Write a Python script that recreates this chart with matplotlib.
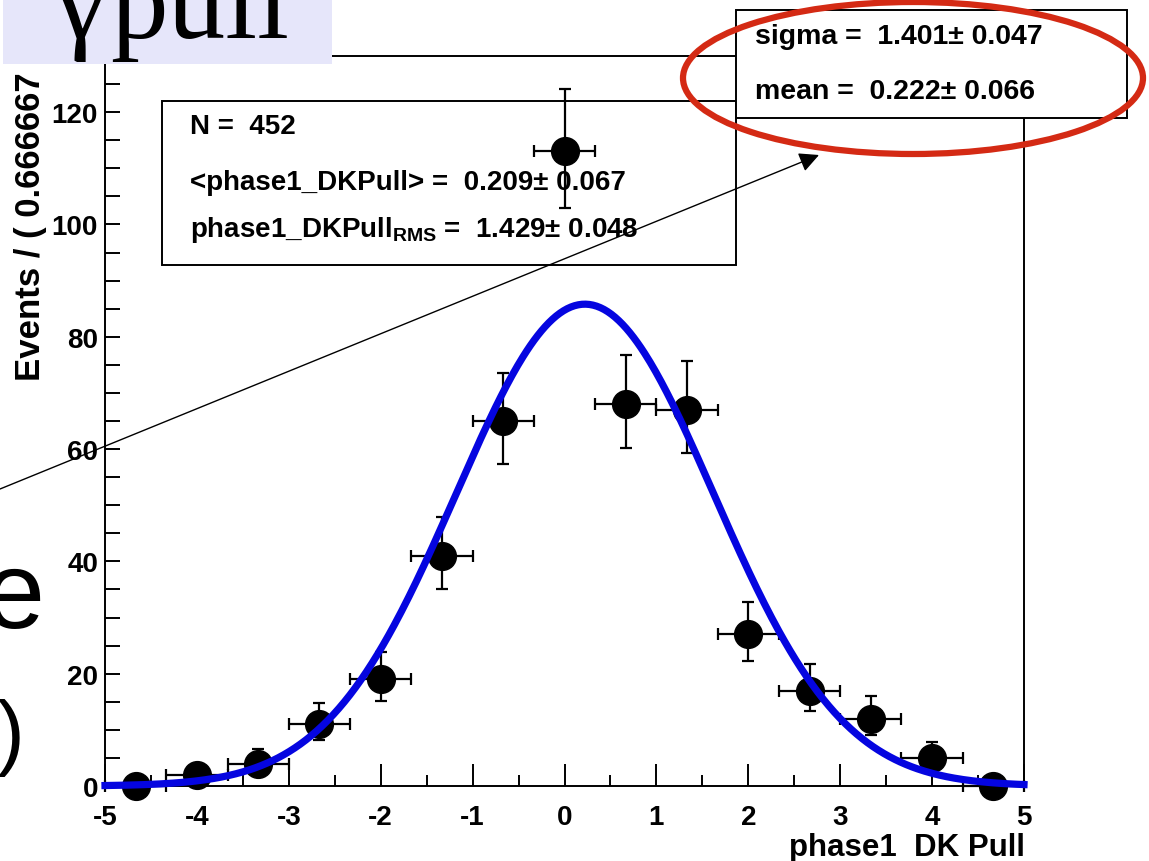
import numpy as np
import matplotlib
matplotlib.use("Agg")
import matplotlib.pyplot as plt
from matplotlib.patches import Rectangle, Ellipse, FancyArrowPatch

# binned pull distribution, 15 bins over [-5, 5]
bin_lo, bin_hi, n_bins = -5.0, 5.0, 15
counts = [0, 2, 4, 11, 19, 41, 65, 113, 68, 67, 27, 17, 12, 5, 0]

# gaussian fit result and dataset summary
n_events = 452
fit_sigma, fit_sigma_err = 1.401, 0.047
fit_mean, fit_mean_err = 0.222, 0.066
data_mean, data_mean_err = 0.209, 0.067
data_rms, data_rms_err = 1.429, 0.048

x_ticks = [-5, -4, -3, -2, -1, 0, 1, 2, 3, 4, 5]
y_ticks = [0, 20, 40, 60, 80, 100, 120]

W, H = 1149, 862
plt.rcParams["axes.unicode_minus"] = False
plt.rcParams["mathtext.default"] = "regular"
root_font = dict(family="Liberation Sans", weight="bold")

fig = plt.figure(figsize=(W / 100, H / 100), dpi=100)


def fx(x):
    return x / W


def fy(y):
    return 1 - y / H


ax = fig.add_axes([fx(105), fy(787), fx(1024) - fx(105), fy(57) - fy(787)])

width = (bin_hi - bin_lo) / n_bins
centers = bin_lo + width * (np.arange(n_bins) + 0.5)
n = np.array(counts, dtype=float)
err_lo = np.sqrt(n + 0.25) - 0.5
err_hi = np.sqrt(n + 0.25) + 0.5

ax.errorbar(centers, n, yerr=[err_lo, err_hi], xerr=width / 2, fmt="o",
            color="black", ms=20, elinewidth=1.6, capsize=4.5, capthick=1.6,
            zorder=3, clip_on=False)

xs = np.linspace(bin_lo, bin_hi, 500)
amp = n_events * width / (fit_sigma * np.sqrt(2 * np.pi))
ax.plot(xs, amp * np.exp(-0.5 * ((xs - fit_mean) / fit_sigma) ** 2),
        color="#0505e0", lw=5.2, zorder=4, clip_on=False)

ax.set_xlim(bin_lo, bin_hi)
ax.set_ylim(0, 130)
ax.set_xticks(x_ticks)
ax.set_xticks(np.arange(-5, 5.01, 0.5), minor=True)
ax.set_yticks(y_ticks)
ax.set_yticks(np.arange(0, 131, 5), minor=True)
ax.tick_params(axis="both", which="both", direction="in", width=1.4,
               labelsize=20, top=False, right=False)
ax.tick_params(axis="x", which="major", length=16, pad=13)
ax.tick_params(axis="x", which="minor", length=8)
ax.tick_params(axis="y", which="both", length=11, pad=5)
for lab in ax.get_xticklabels() + ax.get_yticklabels():
    lab.set_fontfamily("Liberation Sans")
    lab.set_fontweight("bold")
for sp in ax.spines.values():
    sp.set_linewidth(1.4)

fig.text(fx(1025), fy(848), "phase1  DK Pull", ha="right", va="center",
         fontsize=22.5, **root_font)
fig.text(fx(31), fy(381), "Events / ( 0.666667 )", rotation=90, ha="center",
         va="bottom", fontsize=25, zorder=1, **root_font)

# statistics box inside the frame
ax.add_patch(Rectangle((fx(162), fy(266)), fx(736) - fx(162), fy(102) - fy(266),
                       transform=fig.transFigure, facecolor="white",
                       edgecolor="black", lw=1.4, zorder=1.5, clip_on=False))
stat_lines = [
    (127, f"N =  {n_events}"),
    (183, f"<phase1_DKPull> =  {data_mean:.3f}\u00b1 {data_mean_err:.3f}"),
    (230, f"phase1_DKPull$_{{RMS}}$ =  {data_rms:.3f}\u00b1 {data_rms_err:.3f}"),
]
for y, s in stat_lines:
    ax.text(fx(190), fy(y), s, transform=fig.transFigure, ha="left",
            va="center", fontsize=20, zorder=1.6, **root_font)

# fit parameter box
fig.add_artist(Rectangle((fx(736), fy(119)), fx(1127) - fx(736), fy(11) - fy(119),
                         transform=fig.transFigure, facecolor="white",
                         edgecolor="black", lw=1.4, zorder=5))
fig.text(fx(755), fy(37), f"sigma =  {fit_sigma:.3f}\u00b1 {fit_sigma_err:.3f}",
         ha="left", va="center", fontsize=20.5, zorder=6, **root_font)
fig.text(fx(755), fy(92), f"mean =  {fit_mean:.3f}\u00b1 {fit_mean_err:.3f}",
         ha="left", va="center", fontsize=20.5, zorder=6, **root_font)

fig.add_artist(Ellipse((fx(913), fy(79)), fx(460), 152 / H,
                       transform=fig.transFigure, facecolor="none",
                       edgecolor="#d42a14", lw=4.5, zorder=7))

fig.add_artist(FancyArrowPatch((fx(0), fy(490)), (fx(819), fy(156)),
                               transform=fig.transFigure, arrowstyle="-|>",
                               mutation_scale=30, lw=1.0, color="black",
                               zorder=6, shrinkA=0, shrinkB=0))

# slide title and text around the plot
fig.add_artist(Rectangle((fx(3), fy(65)), fx(332) - fx(3), fy(0) - fy(65),
                         transform=fig.transFigure, facecolor="#e6e6fa",
                         edgecolor="none", zorder=5))
fig.text(fx(54), fy(38), "\u03b3", ha="left", va="baseline",
         fontsize=83, family="Liberation Serif", zorder=6)
fig.text(fx(110), fy(38), "pull", ha="left", va="baseline",
         fontsize=83, family="Liberation Serif", zorder=6)
fig.text(fx(44), fy(628), "e", ha="right", va="baseline", fontsize=79,
         family="Liberation Sans")
fig.text(fx(24), fy(760), ")", ha="right", va="baseline", fontsize=60,
         family="Liberation Sans")

fig.savefig("out.png", dpi=100)
